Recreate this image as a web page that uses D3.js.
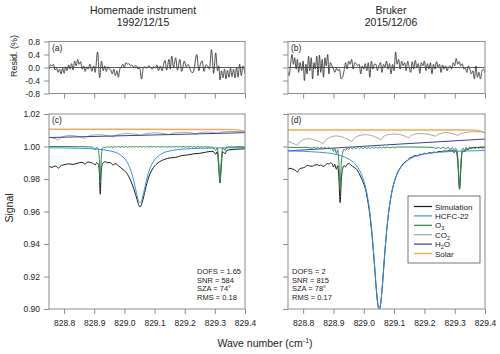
<!DOCTYPE html>
<html>
<head>
<meta charset="utf-8">
<script src="https://cdn.jsdelivr.net/npm/d3@7"></script>
<style>
  body { margin: 0; background: #fff; }
  svg text { font-family: "Liberation Sans", Arial, sans-serif; fill: #222; }
</style>
</head>
<body>
<svg id="chart" width="500" height="354"></svg>
<script>
// Axis ticks
const wnDomain = [828.75, 829.4];
const xTicks = [828.8, 828.9, 829.0, 829.1, 829.2, 829.3, 829.4];
const residTicks = [-0.8, -0.4, 0, 0.4, 0.8];
const signalTicks = [0.90, 0.92, 0.94, 0.96, 0.98, 1.00, 1.02];

const seriesNames = ['Simulation', 'HCFC-22', 'O3', 'CO2', 'H2O', 'Solar'];
const seriesColors = ['#1a1a1a', '#3b8ee8', '#2e8b47', '#a8a8a8', '#3c3c9c', '#f9a94e'];

const statsC = ['DOFS = 1.65', 'SNR = 584', 'SZA = 74\u00b0', 'RMS = 0.18'];
const statsD = ['DOFS = 2', 'SNR = 815', 'SZA = 78\u00b0', 'RMS = 0.17'];

// Residuals (%) - homemade instrument
const residA = [
  [828.750,-0.05],[828.755,0.08],[828.760,0.05],[828.765,0.10],[828.770,-0.08],[828.775,-0.02],
  [828.780,-0.15],[828.785,-0.05],[828.790,-0.20],[828.795,-0.02],[828.800,-0.18],[828.805,0.02],
  [828.810,-0.10],[828.815,0.08],[828.820,-0.05],[828.825,0.12],[828.830,-0.08],[828.835,0.20],
  [828.840,0.05],[828.845,0.25],[828.850,0.10],[828.855,0.18],[828.860,-0.05],[828.865,0.05],
  [828.870,-0.12],[828.875,0.02],[828.880,-0.05],[828.886,0.10],[828.892,-0.12],[828.898,0.05],
  [828.903,-0.15],[828.911,0.48],[828.918,-0.32],[828.924,0.20],[828.930,-0.10],[828.935,0.05],
  [828.940,-0.12],[828.945,0.02],[828.950,-0.05],[828.955,-0.08],[828.960,-0.20],[828.965,-0.05],
  [828.970,-0.25],[828.975,-0.10],[828.980,-0.30],[828.985,-0.05],[828.990,0.02],[828.995,0.10],
  [829.000,0.00],[829.005,0.15],[829.010,0.10],[829.015,0.12],[829.020,0.05],[829.025,0.08],
  [829.030,0.02],[829.035,0.05],[829.040,0.05],[829.045,-0.05],[829.050,0.02],[829.057,-0.35],
  [829.063,0.00],[829.068,0.02],[829.074,-0.02],[829.080,0.05],[829.086,0.02],[829.092,-0.05],
  [829.097,0.03],[829.103,-0.02],[829.108,0.08],[829.113,-0.10],[829.119,0.05],[829.125,-0.10],
  [829.130,0.10],[829.135,0.22],[829.140,-0.08],[829.148,0.25],[829.152,-0.05],[829.157,0.35],
  [829.163,0.00],[829.170,0.30],[829.176,-0.08],[829.184,0.25],[829.190,-0.12],[829.199,0.20],
  [829.205,0.02],[829.211,0.10],[829.217,-0.02],[829.223,-0.15],[829.228,-0.15],[829.240,0.40],
  [829.247,-0.10],[829.252,0.10],[829.258,0.20],[829.264,-0.12],[829.270,0.08],[829.276,0.05],
  [829.282,-0.05],[829.289,0.55],[829.296,-0.18],[829.303,0.45],[829.309,-0.10],[829.313,0.05],
  [829.317,-0.38],[829.322,-0.10],[829.327,-0.32],[829.332,-0.05],[829.337,-0.35],[829.342,-0.08],
  [829.347,-0.30],[829.352,-0.02],[829.357,-0.28],[829.362,-0.05],[829.367,-0.32],[829.372,0.00],
  [829.377,-0.30],[829.382,0.10],[829.388,-0.25],[829.393,0.05],[829.400,-0.20]
];

// Residuals (%) - Bruker
const residB = [
  [828.750,-0.15],[828.754,-0.25],[828.758,0.05],[828.763,0.40],[828.768,0.10],[828.772,0.30],
  [828.777,-0.05],[828.781,0.25],[828.785,-0.15],[828.790,0.15],[828.795,-0.10],[828.800,0.20],
  [828.804,-0.40],[828.809,0.10],[828.813,-0.20],[828.818,0.35],[828.822,-0.10],[828.827,0.30],
  [828.831,-0.35],[828.836,0.15],[828.840,-0.05],[828.845,0.35],[828.849,-0.25],[828.854,0.38],
  [828.858,-0.15],[828.863,0.25],[828.867,-0.30],[828.872,0.30],[828.876,0.05],[828.881,0.40],
  [828.885,-0.20],[828.890,0.15],[828.895,0.05],[828.900,-0.05],[828.905,-0.15],[828.910,-0.02],
  [828.915,-0.10],[828.920,-0.05],[828.925,-0.35],[828.930,-0.30],[828.935,-0.10],[828.940,0.15],
  [828.945,-0.05],[828.950,0.20],[828.955,0.10],[828.960,0.25],[828.965,-0.05],[828.970,0.15],
  [828.975,0.12],[828.980,0.05],[828.985,0.10],[828.990,-0.20],[828.995,0.05],[829.000,-0.05],
  [829.005,0.12],[829.010,-0.10],[829.015,0.15],[829.020,-0.30],[829.025,0.20],[829.030,-0.05],
  [829.035,0.10],[829.040,0.10],[829.045,-0.10],[829.050,0.05],[829.055,0.15],[829.060,-0.15],
  [829.065,0.10],[829.070,0.02],[829.075,0.20],[829.080,-0.05],[829.085,0.12],[829.090,-0.20],
  [829.095,0.10],[829.100,-0.10],[829.105,0.48],[829.110,0.10],[829.115,0.25],[829.120,-0.05],
  [829.125,0.20],[829.130,0.05],[829.135,0.15],[829.140,-0.10],[829.145,0.20],[829.150,0.00],
  [829.155,-0.15],[829.160,0.18],[829.165,-0.05],[829.170,0.22],[829.175,0.00],[829.180,0.12],
  [829.185,-0.18],[829.190,0.15],[829.195,0.05],[829.200,0.20],[829.205,-0.10],[829.210,0.12],
  [829.215,-0.05],[829.220,0.15],[829.225,-0.20],[829.230,0.10],[829.235,-0.05],[829.240,0.18],
  [829.245,0.02],[829.250,0.10],[829.255,-0.15],[829.260,0.08],[829.265,-0.05],[829.270,0.05],
  [829.275,-0.10],[829.280,0.02],[829.285,0.05],[829.290,-0.05],[829.295,0.15],[829.300,0.05],
  [829.305,0.28],[829.310,0.10],[829.315,0.18],[829.320,0.05],[829.325,0.12],[829.330,-0.05],
  [829.335,-0.02],[829.340,-0.15],[829.345,0.05],[829.350,-0.05],[829.355,-0.20],[829.360,-0.10],
  [829.365,-0.35],[829.370,0.05],[829.375,-0.30],[829.380,-0.15],[829.385,-0.35],[829.390,-0.10],
  [829.395,-0.05],[829.400,-0.18]
];

// Panel (c) spectra
const simC = [
  [828.750,0.9878],[828.760,0.9872],[828.770,0.9880],[828.776,0.9876],[828.781,0.9866],[828.786,0.9876],
  [828.792,0.9884],[828.800,0.9887],[828.814,0.9893],[828.830,0.9890],[828.847,0.9899],[828.858,0.9902],
  [828.864,0.9900],[828.869,0.9890],[828.874,0.9900],[828.880,0.9904],[828.891,0.9900],[828.898,0.9894],
  [828.903,0.9886],[828.908,0.9900],[828.914,0.9890],[828.917,0.9840],[828.920,0.9706],[828.923,0.9840],
  [828.927,0.9893],[828.936,0.9906],[828.945,0.9900],[828.952,0.9902],[828.958,0.9893],[828.963,0.9886],
  [828.969,0.9895],[828.980,0.9882],[828.992,0.9863],[829.007,0.9838],[829.022,0.9785],[829.032,0.9735],
  [829.037,0.9705],[829.042,0.9675],[829.047,0.9642],[829.052,0.9628],[829.057,0.9645],[829.062,0.9677],
  [829.067,0.9716],[829.072,0.9755],[829.082,0.9818],[829.097,0.9872],[829.112,0.9900],[829.132,0.9920],
  [829.152,0.9930],[829.170,0.9933],[829.190,0.9944],[829.210,0.9948],[829.230,0.9955],[829.250,0.9958],
  [829.270,0.9965],[829.290,0.9970],[829.298,0.9965],[829.303,0.9952],[829.308,0.9968],[829.313,0.9870],
  [829.317,0.9775],[829.321,0.9870],[829.326,0.9968],[829.330,0.9962],[829.334,0.9955],[829.339,0.9975],
  [829.350,0.9980],[829.370,0.9983],[829.400,0.9986]
];
const hcfcC = [
  [828.750,0.9992],[828.852,0.9989],[828.912,0.9984],[828.952,0.9973],[828.972,0.9963],[828.992,0.9941],
  [829.002,0.9923],[829.007,0.9910],[829.0145,0.9885],[829.022,0.9849],[829.027,0.9818],[829.032,0.9782],
  [829.037,0.9740],[829.042,0.9699],[829.047,0.9667],[829.052,0.9655],[829.057,0.9667],[829.062,0.9699],
  [829.067,0.9740],[829.072,0.9782],[829.077,0.9818],[829.082,0.9849],[829.0895,0.9885],[829.097,0.9910],
  [829.102,0.9923],[829.112,0.9941],[829.132,0.9963],[829.152,0.9973],[829.192,0.9984],[829.252,0.9989],
  [829.352,0.9992],[829.400,0.9993]
];
const o3C = [
  [828.750,1.0000],[828.800,1.0000],[828.850,0.9999],[828.880,0.9998],[828.893,0.9996],[828.898,0.9990],
  [828.903,0.9980],[828.908,0.9995],[828.913,0.9984],[828.917,0.9920],[828.920,0.9777],[828.923,0.9920],
  [828.927,0.9988],[828.932,0.9996],[828.938,0.9993],[828.944,0.9999],[828.950,0.9994],[828.956,1.0000],
  [828.962,0.9994],[828.968,1.0000],[828.974,0.9995],[828.980,1.0000],[828.986,0.9995],[828.992,1.0000],
  [828.998,0.9995],[829.004,1.0000],[829.010,0.9995],[829.016,1.0000],[829.022,0.9996],[829.028,1.0000],
  [829.034,0.9996],[829.040,1.0000],[829.046,0.9996],[829.052,1.0000],[829.058,0.9996],[829.064,1.0000],
  [829.070,0.9996],[829.076,1.0000],[829.082,0.9996],[829.088,1.0000],[829.094,0.9996],[829.100,1.0000],
  [829.106,0.9996],[829.112,1.0000],[829.118,0.9996],[829.124,1.0000],[829.130,0.9996],[829.136,1.0000],
  [829.142,0.9996],[829.148,1.0000],[829.154,0.9996],[829.160,1.0000],[829.166,0.9996],[829.172,1.0000],
  [829.178,0.9996],[829.184,1.0000],[829.190,0.9996],[829.196,1.0000],[829.202,0.9996],[829.208,1.0000],
  [829.214,0.9996],[829.220,1.0000],[829.226,0.9996],[829.232,1.0000],[829.238,0.9995],[829.244,1.0000],
  [829.250,0.9995],[829.256,1.0000],[829.262,0.9995],[829.268,1.0000],[829.274,0.9995],[829.280,0.9999],
  [829.286,0.9994],[829.292,0.9998],[829.298,0.9986],[829.303,0.9975],[829.308,0.9992],[829.313,0.9900],
  [829.317,0.9777],[829.321,0.9900],[829.326,0.9992],[829.330,0.9984],[829.334,0.9976],[829.338,0.9995],
  [829.345,0.9998],[829.360,0.9997],[829.380,0.9999],[829.400,0.9998]
];
const co2C = [
  [828.750,1.0058],[828.760,1.0054],[828.770,1.0048],[828.776,1.0043],[828.781,1.0040],[828.786,1.0050],
  [828.793,1.0058],[828.805,1.0065],[828.820,1.0068],[828.835,1.0066],[828.848,1.0061],[828.858,1.0055],
  [828.864,1.0052],[828.869,1.0049],[828.875,1.0059],[828.885,1.0066],[828.898,1.0071],[828.914,1.0073],
  [828.930,1.0071],[828.944,1.0066],[828.954,1.0062],[828.963,1.0058],[828.969,1.0066],[828.980,1.0073],
  [828.995,1.0078],[829.012,1.0080],[829.028,1.0078],[829.042,1.0074],[829.052,1.0070],[829.057,1.0068],
  [829.063,1.0075],[829.075,1.0080],[829.090,1.0083],[829.105,1.0084],[829.122,1.0082],[829.138,1.0077],
  [829.149,1.0073],[829.155,1.0079],[829.168,1.0084],[829.185,1.0087],[829.205,1.0087],[829.222,1.0083],
  [829.234,1.0079],[829.240,1.0078],[829.248,1.0084],[829.262,1.0088],[829.280,1.0089],[829.298,1.0085],
  [829.309,1.0082],[829.315,1.0086],[829.330,1.0090],[829.350,1.0092],[829.380,1.0092],[829.400,1.0091]
];
const h2oC = [[828.750,1.0055],[829.075,1.0070],[829.400,1.0085]];
const solarC = [
  [828.750,1.0106],[829.000,1.0106],[829.300,1.0105],[829.360,1.0104],[829.380,1.0101],
  [829.390,1.0098],[829.400,1.0094]
];

// Panel (d) spectra
const simD = [
  [828.750,0.9860],[828.757,0.9866],[828.764,0.9862],[828.770,0.9858],[828.776,0.9850],[828.781,0.9843],
  [828.787,0.9860],[828.797,0.9868],[828.805,0.9872],[828.814,0.9884],[828.822,0.9880],[828.830,0.9878],
  [828.838,0.9886],[828.847,0.9888],[828.852,0.9882],[828.858,0.9886],[828.864,0.9880],[828.869,0.9878],
  [828.875,0.9890],[828.880,0.9895],[828.886,0.9892],[828.891,0.9900],[828.896,0.9893],[828.900,0.9874],
  [828.904,0.9890],[828.910,0.9860],[828.914,0.9882],[828.918,0.9800],[828.922,0.9655],[828.926,0.9800],
  [828.931,0.9868],[828.935,0.9882],[828.940,0.9875],[828.945,0.9890],[828.952,0.9895],[828.958,0.9885],
  [828.963,0.9878],[828.969,0.9870],[828.974,0.9864],[828.980,0.9850],[828.985,0.9833],[828.991,0.9810],
  [829.001,0.9765],[829.006,0.9735],[829.0135,0.9662],[829.021,0.9565],[829.026,0.9478],[829.031,0.9372],
  [829.036,0.9252],[829.041,0.9128],[829.045,0.9048],[829.048,0.9010],[829.051,0.9000],[829.054,0.9012],
  [829.057,0.9052],[829.061,0.9135],[829.066,0.9260],[829.071,0.9382],[829.076,0.9490],[829.081,0.9578],
  [829.0885,0.9678],[829.096,0.9749],[829.101,0.9784],[829.111,0.9837],[829.121,0.9870],[829.131,0.9897],
  [829.141,0.9910],[829.151,0.9928],[829.160,0.9935],[829.170,0.9945],[829.177,0.9942],[829.185,0.9952],
  [829.192,0.9950],[829.200,0.9958],[829.208,0.9955],[829.216,0.9962],[829.224,0.9960],[829.232,0.9966],
  [829.240,0.9963],[829.248,0.9970],[829.256,0.9968],[829.264,0.9973],[829.272,0.9971],[829.280,0.9976],
  [829.287,0.9978],[829.293,0.9975],[829.298,0.9962],[829.303,0.9975],[829.309,0.9930],[829.312,0.9850],
  [829.316,0.9737],[829.320,0.9850],[829.324,0.9960],[829.328,0.9972],[829.333,0.9968],[829.338,0.9985],
  [829.345,0.9982],[829.350,0.9990],[829.360,0.9992],[829.375,0.9994],[829.390,0.9996],[829.400,0.9997]
];
const hcfcD = [
  [828.750,0.9973],[828.851,0.9965],[828.911,0.9950],[828.951,0.9922],[828.971,0.9893],[828.991,0.9835],
  [829.001,0.9784],[829.006,0.9749],[829.0135,0.9678],[829.021,0.9578],[829.026,0.9490],[829.031,0.9382],
  [829.036,0.9260],[829.041,0.9135],[829.045,0.9053],[829.048,0.9014],[829.051,0.9000],[829.054,0.9014],
  [829.057,0.9053],[829.061,0.9135],[829.066,0.9260],[829.071,0.9382],[829.076,0.9490],[829.081,0.9578],
  [829.0885,0.9678],[829.096,0.9749],[829.101,0.9784],[829.111,0.9835],[829.131,0.9893],[829.151,0.9922],
  [829.191,0.9950],[829.251,0.9965],[829.351,0.9973],[829.400,0.9975]
];
const o3D = [
  [828.750,0.9995],[828.780,0.9994],[828.810,0.9995],[828.830,0.9990],[828.836,0.9996],[828.842,0.9989],
  [828.848,0.9996],[828.854,0.9988],[828.860,0.9996],[828.866,0.9987],[828.872,0.9995],[828.878,0.9986],
  [828.884,0.9994],[828.890,0.9985],[828.895,0.9990],[828.900,0.9970],[828.904,0.9988],[828.910,0.9956],
  [828.914,0.9980],[828.918,0.9900],[828.922,0.9750],[828.926,0.9900],[828.931,0.9966],[828.935,0.9985],
  [828.940,0.9976],[828.945,0.9992],[828.950,0.9983],[828.956,0.9994],[828.962,0.9984],[828.968,0.9994],
  [828.974,0.9985],[828.980,0.9995],[828.986,0.9986],[828.992,0.9995],[828.998,0.9986],[829.004,0.9996],
  [829.010,0.9987],[829.016,0.9996],[829.022,0.9988],[829.028,0.9996],[829.034,0.9988],[829.040,0.9997],
  [829.046,0.9989],[829.052,0.9997],[829.058,0.9990],[829.064,0.9997],[829.070,0.9991],[829.078,0.9997],
  [829.086,0.9992],[829.094,0.9997],[829.102,0.9993],[829.110,0.9997],[829.150,0.9997],[829.200,0.9996],
  [829.230,0.9994],[829.238,0.9988],[829.246,0.9995],[829.254,0.9987],[829.262,0.9995],[829.270,0.9986],
  [829.278,0.9994],[829.286,0.9985],[829.293,0.9993],[829.298,0.9972],[829.303,0.9990],[829.309,0.9960],
  [829.312,0.9880],[829.316,0.9740],[829.320,0.9880],[829.324,0.9975],[829.328,0.9990],[829.333,0.9975],
  [829.338,0.9995],[829.343,0.9980],[829.349,0.9996],[829.355,0.9986],[829.361,0.9997],[829.367,0.9987],
  [829.373,0.9997],[829.379,0.9988],[829.385,0.9997],[829.391,0.9989],[829.400,0.9996]
];
const co2D = [
  [828.750,1.0030],[828.760,1.0024],[828.770,1.0017],[828.776,1.0012],[828.781,1.0009],[828.786,1.0022],
  [828.793,1.0034],[828.803,1.0043],[828.815,1.0048],[828.828,1.0046],[828.840,1.0040],[828.852,1.0030],
  [828.860,1.0023],[828.867,1.0019],[828.873,1.0036],[828.882,1.0050],[828.893,1.0060],[828.908,1.0065],
  [828.922,1.0062],[828.936,1.0054],[828.948,1.0043],[828.956,1.0036],[828.961,1.0032],[828.967,1.0048],
  [828.977,1.0061],[828.990,1.0069],[829.005,1.0073],[829.020,1.0070],[829.034,1.0062],[829.045,1.0052],
  [829.052,1.0046],[829.057,1.0042],[829.063,1.0057],[829.073,1.0069],[829.086,1.0075],[829.100,1.0077],
  [829.115,1.0075],[829.130,1.0068],[829.141,1.0060],[829.149,1.0054],[829.155,1.0066],[829.165,1.0074],
  [829.178,1.0079],[829.193,1.0079],[829.208,1.0077],[829.222,1.0071],[829.233,1.0066],[829.238,1.0063],
  [829.244,1.0073],[829.254,1.0080],[829.266,1.0085],[829.280,1.0084],[829.295,1.0078],[829.305,1.0072],
  [829.311,1.0069],[829.318,1.0078],[829.330,1.0085],[829.345,1.0089],[829.365,1.0091],[829.385,1.0090],
  [829.400,1.0088]
];
const h2oD = [[828.750,0.9973],[829.075,1.0010],[829.400,1.0046]];
const solarD = [
  [828.750,1.0102],[829.000,1.0102],[829.300,1.0102],[829.360,1.0101],[829.380,1.0097],
  [829.390,1.0091],[829.400,1.0083]
];

// ---- layout ----
const svg = d3.select('#chart');
const residTop = 41.5, residBottom = 93.5;
const specTop = 114, specBottom = 309;
const frameColor = '#8c8c8c';

const columns = [
  { left: 49, right: 245, titleX: 143, title: ['Homemade instrument', '1992/12/15'],
    residTag: '(a)', specTag: '(c)', resid: residA,
    series: [simC, hcfcC, o3C, co2C, h2oC, solarC], stats: statsC, statsX: 197, labels: true },
  { left: 288, right: 485, titleX: 391, title: ['Bruker', '2015/12/06'],
    residTag: '(b)', specTag: '(d)', resid: residB,
    series: [simD, hcfcD, o3D, co2D, h2oD, solarD], stats: statsD, statsX: 292, labels: false }
];

// draw order: background gases first, then simulation, HCFC-22 and O3 on top
const drawOrder = [5, 3, 4, 0, 1, 2];

columns.forEach((col, ci) => {
  const x = d3.scaleLinear().domain(wnDomain).range([col.left, col.right]);
  const yR = d3.scaleLinear().domain([-0.8, 0.8]).range([residBottom, residTop]);
  const yS = d3.scaleLinear().domain([0.90, 1.02]).range([specBottom, specTop]);

  // titles
  svg.append('text')
      .attr('x', col.titleX).attr('y', 14)
      .attr('text-anchor', 'middle')
      .attr('font-size', '10.5px')
      .text(col.title[0]);
  svg.append('text')
      .attr('x', col.titleX).attr('y', 26)
      .attr('text-anchor', 'middle')
      .attr('font-size', '10.5px')
      .text(col.title[1]);

  // clip paths
  const defs = svg.append('defs');
  defs.append('clipPath').attr('id', 'clipR' + ci)
    .append('rect')
      .attr('x', col.left).attr('y', residTop)
      .attr('width', col.right - col.left).attr('height', residBottom - residTop);
  defs.append('clipPath').attr('id', 'clipS' + ci)
    .append('rect')
      .attr('x', col.left).attr('y', specTop)
      .attr('width', col.right - col.left).attr('height', specBottom - specTop);

  // --- residual panel ---
  const gR = svg.append('g');
  gR.append('line')
      .attr('x1', col.left).attr('x2', col.right)
      .attr('y1', yR(0)).attr('y2', yR(0))
      .attr('stroke', '#333').attr('stroke-width', 0.8);

  gR.append('path')
      .datum(col.resid)
      .attr('clip-path', `url(#clipR${ci})`)
      .attr('fill', 'none')
      .attr('stroke', '#3a3a3a')
      .attr('stroke-width', 0.9)
      .attr('d', d3.line().x(d => x(d[0])).y(d => yR(d[1])).curve(d3.curveMonotoneX));

  // --- spectrum panel ---
  const gS = svg.append('g').attr('clip-path', `url(#clipS${ci})`);
  const lineS = d3.line().x(d => x(d[0])).y(d => yS(d[1])).curve(d3.curveMonotoneX);
  drawOrder.forEach(i => {
    gS.append('path')
        .datum(col.series[i])
        .attr('fill', 'none')
        .attr('stroke', seriesColors[i])
        .attr('stroke-width', i === 5 ? 1.4 : 1)
        .attr('d', lineS);
  });

  // frames
  [[residTop, residBottom], [specTop, specBottom]].forEach(([t, b]) => {
    svg.append('rect')
        .attr('x', col.left).attr('y', t)
        .attr('width', col.right - col.left).attr('height', b - t)
        .attr('fill', 'none')
        .attr('stroke', frameColor)
        .attr('stroke-width', 1);
  });

  // axes
  const styleAxis = g => {
    g.select('.domain').remove();
    g.selectAll('.tick line').attr('stroke', frameColor);
    g.selectAll('.tick text')
        .attr('font-size', '8.5px')
        .attr('fill', '#222')
        .style('font-family', '"Liberation Sans", Arial, sans-serif');
  };

  svg.append('g')
      .attr('transform', `translate(${col.left},0)`)
      .call(d3.axisLeft(yR).tickValues(residTicks).tickSize(5).tickPadding(4)
        .tickFormat(col.labels ? (d => d.toFixed(1)) : ''))
      .call(styleAxis);
  svg.append('g')
      .attr('transform', `translate(0,${residBottom})`)
      .call(d3.axisBottom(x).tickValues(xTicks).tickSize(5).tickFormat(''))
      .call(styleAxis);

  svg.append('g')
      .attr('transform', `translate(${col.left},0)`)
      .call(d3.axisLeft(yS).tickValues(signalTicks).tickSize(5).tickPadding(4)
        .tickFormat(col.labels ? (d => d.toFixed(2)) : ''))
      .call(styleAxis);
  svg.append('g')
      .attr('transform', `translate(0,${specBottom})`)
      .call(d3.axisBottom(x).tickValues(xTicks).tickSize(5).tickPadding(6)
        .tickFormat(d => d.toFixed(1)))
      .call(styleAxis);

  // panel tags
  svg.append('text')
      .attr('x', col.left + 3).attr('y', residTop + 9)
      .attr('font-size', '8.5px')
      .text(col.residTag);
  svg.append('text')
      .attr('x', col.left + 3).attr('y', specTop + 9)
      .attr('font-size', '8.5px')
      .text(col.specTag);

  // fit statistics
  col.stats.forEach((s, i) => {
    svg.append('text')
        .attr('x', col.statsX).attr('y', 274 + i * 8.5)
        .attr('font-size', '7.5px')
        .text(s);
  });
});

// axis titles
svg.append('text')
    .attr('transform', 'translate(17,56) rotate(-90)')
    .attr('text-anchor', 'middle')
    .attr('font-size', '9px')
    .text('Resid. (%)');
svg.append('text')
    .attr('transform', 'translate(13,208) rotate(-90)')
    .attr('text-anchor', 'middle')
    .attr('font-size', '10.5px')
    .text('Signal');

const xl = svg.append('text')
    .attr('x', 265).attr('y', 347)
    .attr('text-anchor', 'middle')
    .attr('font-size', '10.5px');
xl.append('tspan').text('Wave number (cm');
xl.append('tspan').attr('font-size', '7px').attr('dy', -4).text('-1');
xl.append('tspan').attr('dy', 4).text(')');

// legend
const legend = svg.append('g').attr('transform', 'translate(408,196)');
legend.append('rect')
    .attr('width', 72).attr('height', 67)
    .attr('fill', '#fff')
    .attr('stroke', '#555')
    .attr('stroke-width', 0.8);
const subs = { 'O3': ['O', '3', ''], 'CO2': ['CO', '2', ''], 'H2O': ['H', '2', 'O'] };
seriesNames.forEach((name, i) => {
  const yy = 10.5 + i * 9.4;
  legend.append('line')
      .attr('x1', 6).attr('x2', 24)
      .attr('y1', yy).attr('y2', yy)
      .attr('stroke', seriesColors[i])
      .attr('stroke-width', i === 5 ? 1.4 : 1.2);
  const t = legend.append('text')
      .attr('x', 27).attr('y', yy + 3)
      .attr('font-size', '8px');
  if (subs[name]) {
    const [a, b, c] = subs[name];
    t.append('tspan').text(a);
    t.append('tspan').attr('font-size', '5.5px').attr('dy', 2).text(b);
    if (c) t.append('tspan').attr('dy', -2).text(c);
  } else {
    t.text(name);
  }
});
</script>
</body>
</html>
